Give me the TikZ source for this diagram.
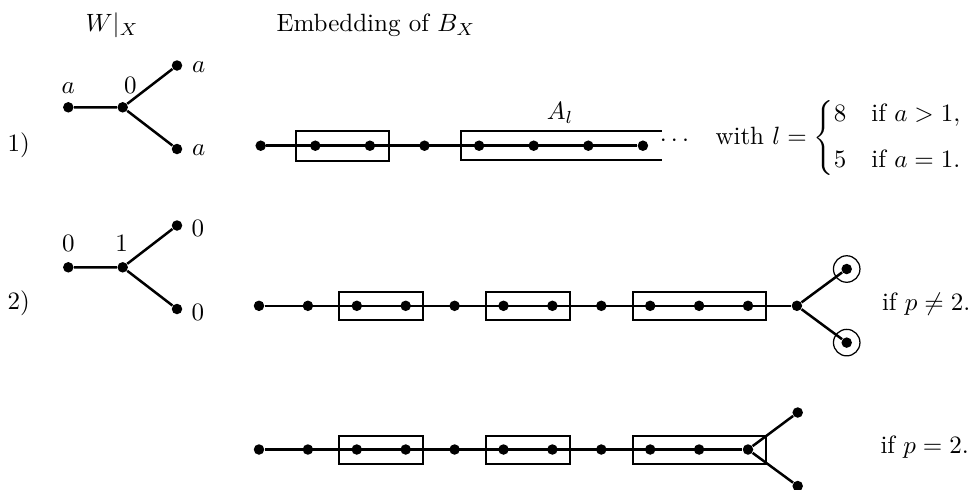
\documentclass[tikz,border=0pt]{standalone}
\usepackage{amsmath}
\usetikzlibrary{fit}
\begin{document}
\begin{tikzpicture}[x=0.4pt,y=-0.4pt,
  dot/.style={circle,fill,inner sep=0pt,minimum size=4.2pt},
  edge/.style={line width=1pt},
  grp/.style={draw,line width=0.8pt,inner sep=0pt},
  grpline/.style={line width=0.8pt},
  ring/.style={circle,draw,line width=0.5pt,minimum size=10.6pt,inner sep=0pt},
  lbl/.style={inner sep=0pt,anchor=base},
  txt/.style={inner sep=0pt,anchor=base west}]
\useasboundingbox (0,0) rectangle (973,489);

% titles
\node[txt] (t1) at (85,31.5) {$W|_X$};
\node[txt] (t2) at (276,31.5) {Embedding of $B_X$};

% ---------- row 1 tree ----------
\node[txt] (n1) at (7,151) {1)};
\node[dot] (ta) at (68.3,107.3) {};
\node[dot] (tb) at (122.7,107.3) {};
\node[dot] (tc) at (177,65.5) {};
\node[dot] (td) at (177,149) {};
\draw[edge] (ta) -- (tb) (tb) -- (tc) (tb) -- (td);
\node[lbl] (la) at (68.3,93.3) {$a$};
\node[lbl] (lb) at (130.3,93.3) {$0$};
\node[txt] (lc) at (191.5,72) {$a$};
\node[txt] (ld) at (191.5,155.5) {$a$};

% ---------- row 2 tree ----------
\node[txt] (n2) at (7,309) {2)};
\node[dot] (sa) at (68.3,267.3) {};
\node[dot] (sb) at (122.7,267.3) {};
\node[dot] (sc) at (177,225.5) {};
\node[dot] (sd) at (177,309) {};
\draw[edge] (sa) -- (sb) (sb) -- (sc) (sb) -- (sd);
\node[lbl] (ma) at (68.3,251.7) {$0$};
\node[lbl] (mb) at (121.7,251.7) {$1$};
\node[txt] (mc) at (191,236.7) {$0$};
\node[txt] (md) at (191,320.2) {$0$};

% ---------- row 1 chain ----------
\foreach \i in {0,...,7} \node[dot] (r1-\i) at ({260.7+54.6*\i},145.7) {};
\draw[edge] (r1-0) -- (r1-7);
\node[grp,fit=(r1-1)(r1-2),inner xsep=5.45pt,inner ysep=3.76pt] (g1a) {};
\coordinate (o1) at (661.7,130.7);
\coordinate (o2) at (460.7,130.7);
\coordinate (o3) at (460.7,160);
\coordinate (o4) at (661.7,160);
\draw[grpline] (o1) -- (o2) -- (o3) -- (o4);
\node[inner sep=0pt] (al) at (560,113) {$A_l$};
\node[lbl] (dots) at (676.5,146) {$\cdots$};
\node[txt] (with) at (715,144) {with $l=\begin{cases}8 & \text{if } a>1,\\[4pt] 5 & \text{if } a=1.\end{cases}$};

% ---------- row 2 chain ----------
\foreach \i in {0,...,11} \node[dot] (r2-\i) at ({259+48.9*\i},305.8) {};
\draw[edge] (r2-0) -- (r2-11);
\node[dot] (r2-u) at (846.7,269) {};
\node[dot] (r2-l) at (846.7,342.6) {};
\draw[edge] (r2-11) -- (r2-u) (r2-11) -- (r2-l);
\node[ring] (c2u) at (r2-u) {};
\node[ring] (c2l) at (r2-l) {};
\node[grp,fit=(r2-2)(r2-3),inner xsep=4.7pt,inner ysep=3.3pt] (g2a) {};
\node[grp,fit=(r2-5)(r2-6),inner xsep=4.7pt,inner ysep=3.3pt] (g2b) {};
\node[grp,fit=(r2-8)(r2-10),inner xsep=4.7pt,inner ysep=3.3pt] (g2c) {};
\node[txt] (if2) at (881.5,310) {if $p\neq 2$.};

% ---------- row 3 chain ----------
\foreach \i in {0,...,10} \node[dot] (r3-\i) at ({259+48.9*\i},449.5) {};
\draw[edge] (r3-0) -- (r3-10);
\node[dot] (r3-u) at (797.7,412.5) {};
\node[dot] (r3-l) at (797.7,486) {};
\draw[edge] (r3-10) -- (r3-u) (r3-10) -- (r3-l);
\node[grp,fit=(r3-2)(r3-3),inner xsep=4.7pt,inner ysep=3.3pt] (g3a) {};
\node[grp,fit=(r3-5)(r3-6),inner xsep=4.7pt,inner ysep=3.3pt] (g3b) {};
\node[grp,fit=(r3-8)(r3-10),inner xsep=4.7pt,inner ysep=3.3pt] (g3c) {};
\node[txt] (if3) at (880,453.5) {if $p=2$.};
\end{tikzpicture}
\end{document}
